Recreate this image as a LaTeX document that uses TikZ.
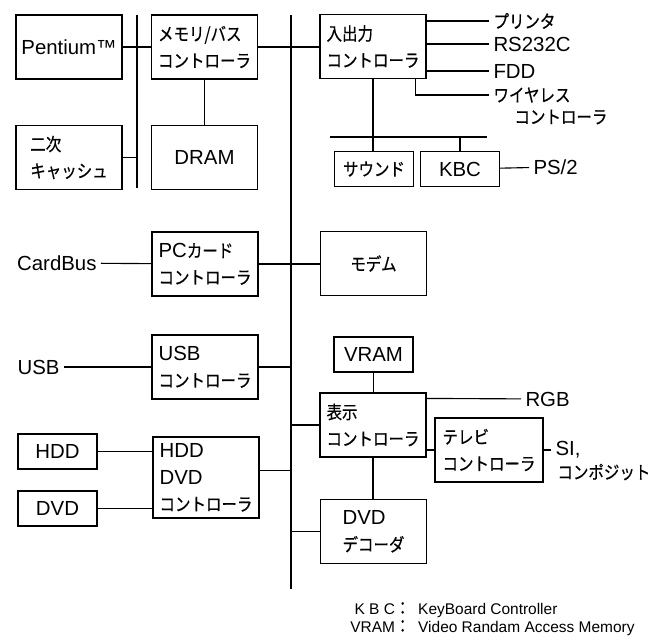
\documentclass[tikz,border=0pt]{standalone}
\usepackage{fontspec}
\setmainfont{Liberation Sans}
\newfontfamily\jpfont[FakeStretch=0.86,FakeBold=0.5]{Noto Sans CJK JP}
\usepackage{tikz}
\usetikzlibrary{
    positioning,
    calc
}
\newcommand{\jp}[1]{{\jpfont\fontsize{12.8}{19}\selectfont #1}}
\tikzset{
    bloque/.style={
        draw,
        line width=0.8pt,
        minimum width=2.65cm,
        minimum height=1.6cm,
        inner sep=2pt,
        align=left,
        font=\fontsize{14.5}{19}\selectfont
    },
    chico/.style={
        bloque,
        minimum width=1.975cm,
        minimum height=0.875cm
    },
    etiqueta/.style={
        inner sep=3pt,
        font=\fontsize{14.5}{19}\selectfont
    },
    linea/.style={line width=0.8pt},
    bus/.style={line width=1.5pt}
}

\begin{document}
\begin{tikzpicture}[
    x=0.025cm,
    y=-0.025cm
]
    \useasboundingbox (0,0) rectangle (664,639);

    % Bloques
    \node[bloque] (pent)   at (69,47)      {Pentium™};
    \node[bloque] (memctl) at (204.5,47)   {\jp{メモリ/バス}\\\jp{コントローラ}};
    \node[bloque] (cache)  at (69,157.5)   {\jp{二次}\\\jp{キャッシュ}};
    \node[bloque] (dram)   at (204.5,157.5){DRAM};

    \node[bloque] (ioctl)  at (373,46.5)   {\jp{入出力}\\\jp{コントローラ}};
    \node[chico]  (sound)  at (374,169)    {\jp{サウンド}};
    \node[chico]  (kbc)    at (460,169)    {KBC};

    \node[bloque] (pccard) at (205,264)    {PC\jp{カード}\\\jp{コントローラ}};
    \node[bloque] (modem)  at (373.5,263.5){\jp{モデム}};
    \node[bloque] (usbctl) at (205,367)    {USB\\\jp{コントローラ}};

    \node[chico]  (vram)   at (373.5,354.5){VRAM};
    \node[bloque] (disp)   at (373,425)    {\jp{表示}\\\jp{コントローラ}};
    \node[bloque, minimum width=2.7cm]
                  (tv)     at (489,450)    {\jp{テレビ}\\\jp{コントローラ}};
    \node[bloque] (dvddec) at (373.5,531.5){DVD\\\jp{デコーダ}};

    \node[chico]  (hdd)    at (57.5,451.5) {HDD};
    \node[chico]  (dvd)    at (57.5,508.5) {DVD};
    \node[bloque, minimum height=2.025cm]
                  (hddctl) at (206,477.5)  {HDD\\DVD\\\jp{コントローラ}};

    % Etiquetas
    \node[etiqueta, anchor=west] (prn)  at (489,21)  {\jp{プリンタ}};
    \node[etiqueta, anchor=west] (rs)   at (489,44)  {RS232C};
    \node[etiqueta, anchor=west] (fdd)  at (489,71)  {FDD};
    \node[etiqueta, anchor=west] (wl)   at (489,95)  {\jp{ワイヤレス}};
    \node[etiqueta, anchor=west] (wl2)  at (510,117) {\jp{コントローラ}};
    \node[etiqueta, anchor=west] (ps)   at (529,167) {PS/2};
    \node[etiqueta, anchor=east] (card) at (101,263) {CardBus};
    \node[etiqueta, anchor=east] (usb)  at (64,367)  {USB};
    \node[etiqueta, anchor=west] (rgb)  at (521,399) {RGB};
    \node[etiqueta, anchor=west] (si)   at (551,450) {SI,};
    \node[etiqueta, anchor=west] (comp) at (553,472) {\jp{コンポジット}};

    % Buses
    \coordinate (lbA) at (137,15);
    \coordinate (lbB) at (137,188);
    \coordinate (mbA) at (291,15);
    \coordinate (mbB) at (291,589);
    \coordinate (sbA) at (330,137);
    \coordinate (sbB) at (487,137);
    \draw[bus]   (lbA) -- (lbB);
    \draw[bus]   (mbA) -- (mbB);
    \draw[linea] (sbA) -- (sbB);

    % Conexiones
    \draw[linea] (pent) -- (memctl);
    \draw[linea] (cache) -- (cache -| lbA);
    \draw[linea] (memctl) -- (dram);
    \draw[linea] (memctl.east) -- (memctl.east -| ioctl.west);

    \draw[linea] (ioctl) -- (ioctl |- sound.north);
    \draw[linea] (kbc.north) -- (kbc.north |- sbA);
    \draw[linea] (kbc) -- (ps);
    \draw[linea] (ioctl.east |- prn) -- (prn);
    \draw[linea] (ioctl.east |- rs) -- (rs);
    \draw[linea] (ioctl.east |- fdd) -- (fdd);
    \draw[linea] ($(ioctl.south east)+(-11,0)$) |- (wl);

    \draw[linea] (card) -- (pccard);
    \draw[linea] (pccard.east) -- (pccard.east -| modem.west);
    \draw[linea] (usb) -- (usbctl);
    \draw[linea] (usbctl) -- (usbctl -| mbA);

    \draw[linea] (vram) -- (vram |- disp.north);
    \draw[linea] (disp) -- (disp -| mbA);
    \draw[linea] ($(disp.north east)+(0,6)$) -- (rgb);
    \draw[linea] (tv.west -| disp.east) -- (tv);
    \draw[linea] (tv) -- (si);
    \draw[linea] (disp) -- (disp |- dvddec.north);
    \draw[linea] (dvddec) -- (dvddec -| mbA);

    \draw[linea] (hdd) -- (hdd -| hddctl.west);
    \draw[linea] (dvd) -- (dvd -| hddctl.west);
    \draw[linea] ($(hddctl.east)+(0,-7)$) coordinate (hx) -- (hx -| mbA);

    % Leyenda
    \node[anchor=west, inner sep=0pt, font=\fontsize{11}{12.8}\selectfont]
        (leyenda) at (350,620) {%
        \begin{tabular}{@{}r@{\jp{：}\enspace}l@{}}
            K B C & KeyBoard Controller\\
            VRAM  & Video Randam Access Memory
        \end{tabular}};

\end{tikzpicture}
\end{document}
